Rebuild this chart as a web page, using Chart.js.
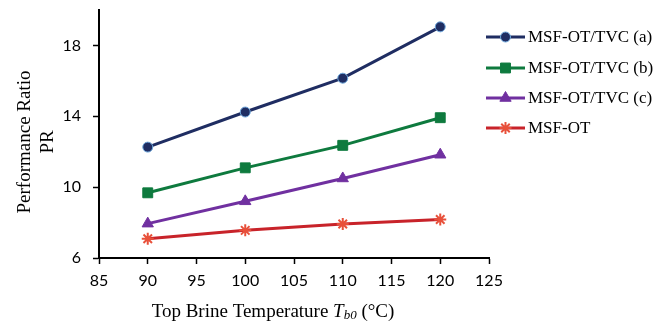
<!DOCTYPE html>
<html><head><meta charset="utf-8">
<script src="https://cdn.jsdelivr.net/npm/chart.js@4.4.1/dist/chart.umd.min.js"></script>
<style>html,body{margin:0;padding:0;background:#fff}#wrap{width:665px;height:328px}</style>
</head><body><div id="wrap"><canvas id="c" width="665" height="328"></canvas></div>
<script>
const temperatures = [90, 100, 110, 120];
const prTvcA = [12.26, 14.24, 16.15, 19.05];
const prTvcB = [9.68, 11.09, 12.36, 13.92];
const prTvcC = [7.94, 9.2, 10.49, 11.83];
const prOT = [7.09, 7.56, 7.92, 8.17];
const seriesLabels = ['MSF-OT/TVC (a)', 'MSF-OT/TVC (b)', 'MSF-OT/TVC (c)', 'MSF-OT'];
const yTicks = [6, 10, 14, 18];
const yTitleLines = ['Performance Ratio', 'PR'];

const toPts = arr => temperatures.map((t, i) => ({x: t, y: arr[i]}));

const datasets = [
  {label: seriesLabels[0], data: toPts(prTvcA), borderColor: '#1f2d62', backgroundColor: '#1f2d62', pointBorderColor: '#6fa8dc', pointBorderWidth: 1, pointStyle: 'circle', pointRadius: 5},
  {label: seriesLabels[1], data: toPts(prTvcB), borderColor: '#0e7a3e', backgroundColor: '#0e7a3e', pointBorderColor: '#0e7a3e', pointBorderWidth: 1, pointStyle: 'rect', pointRadius: 7},
  {label: seriesLabels[2], data: toPts(prTvcC), borderColor: '#7030a0', backgroundColor: '#7030a0', pointBorderColor: '#7030a0', pointBorderWidth: 1, pointStyle: 'triangle', pointRadius: 6.5},
  {label: seriesLabels[3], data: toPts(prOT), borderColor: '#c8232a', backgroundColor: '#e8503a', pointBorderColor: '#e8503a', pointBorderWidth: 2, pointStyle: 'star', pointRadius: 6}
].map(d => Object.assign({borderWidth: 3, tension: 0, pointHoverRadius: d.pointRadius}, d));

const legendPlugin = {
  id: 'sideLegend',
  afterDraw(chart) {
    const ctx = chart.ctx;
    const x0 = 486, x1 = 525, tx = 528;
    const ys = [37, 68, 98, 128];
    chart.data.datasets.forEach((ds, i) => {
      const y = ys[i];
      ctx.save();
      ctx.strokeStyle = ds.borderColor; ctx.lineWidth = 3;
      ctx.beginPath(); ctx.moveTo(x0, y); ctx.lineTo(x1, y); ctx.stroke();
      ctx.fillStyle = ds.backgroundColor; ctx.strokeStyle = ds.pointBorderColor; ctx.lineWidth = ds.pointBorderWidth;
      Chart.helpers.drawPoint(ctx, {pointStyle: ds.pointStyle, radius: ds.pointRadius, borderWidth: ds.pointBorderWidth}, (x0 + x1) / 2, y);
      ctx.fillStyle = '#000'; ctx.font = '17px "Liberation Serif"'; ctx.textBaseline = 'middle'; ctx.textAlign = 'left';
      ctx.fillText(ds.label, tx, y + 1);
      ctx.restore();
    });
    // y axis title (two lines, rotated)
    ctx.save();
    ctx.fillStyle = '#000'; ctx.font = '19px "Liberation Serif"'; ctx.textAlign = 'center'; ctx.textBaseline = 'middle';
    ctx.translate(25, 142); ctx.rotate(-Math.PI / 2);
    yTitleLines.forEach((t, i) => ctx.fillText(t, 0, i * 23));
    ctx.restore();
    // x axis title with italic T and subscript b0
    const y = 312;
    const parts = [
      {t: 'Top Brine Temperature ', f: '19px "Liberation Serif"', dy: 0},
      {t: 'T', f: 'italic 19px "Liberation Serif"', dy: 0},
      {t: 'b0', f: 'italic 13px "Liberation Serif"', dy: 4},
      {t: ' (°C)', f: '19px "Liberation Serif"', dy: 0}
    ];
    ctx.save();
    ctx.textBaseline = 'middle'; ctx.textAlign = 'left'; ctx.fillStyle = '#000';
    let total = 0;
    parts.forEach(p => { ctx.font = p.f; p.w = ctx.measureText(p.t).width; total += p.w; });
    let x = (chart.chartArea.left + chart.chartArea.right) / 2 - 21 - total / 2;
    parts.forEach(p => { ctx.font = p.f; ctx.fillText(p.t, x, y + p.dy); x += p.w; });
    ctx.restore();
  }
};

new Chart(document.getElementById('c'), {
  type: 'line',
  data: {datasets},
  options: {
    responsive: false, animation: false,
    layout: {padding: {left: 0, top: 10, right: 176, bottom: 0}},
    plugins: {legend: {display: false}, tooltip: {enabled: false}},
    scales: {
      x: {
        type: 'linear', min: 85, max: 125,
        ticks: {stepSize: 5, color: '#000', font: {family: 'Lato', size: 16}, padding: 7},
        grid: {drawOnChartArea: false, color: '#000', tickLength: 6, tickWidth: 1.5},
        border: {color: '#000', width: 2},
        afterFit(s) { s.height = 70; s.paddingRight = 0; }
      },
      y: {
        min: 6, max: 20,
        afterBuildTicks(s) { s.ticks = yTicks.map(v => ({value: v})); },
        ticks: {color: '#000', font: {family: 'Lato', size: 16}, padding: 12},
        grid: {drawOnChartArea: false, color: '#000', tickLength: 6, tickWidth: 1.5},
        border: {color: '#000', width: 2},
        afterFit(s) { s.width = 99; s.paddingTop = 0; s.paddingBottom = 0; }
      }
    }
  },
  plugins: [legendPlugin]
});
</script>
</body></html>
